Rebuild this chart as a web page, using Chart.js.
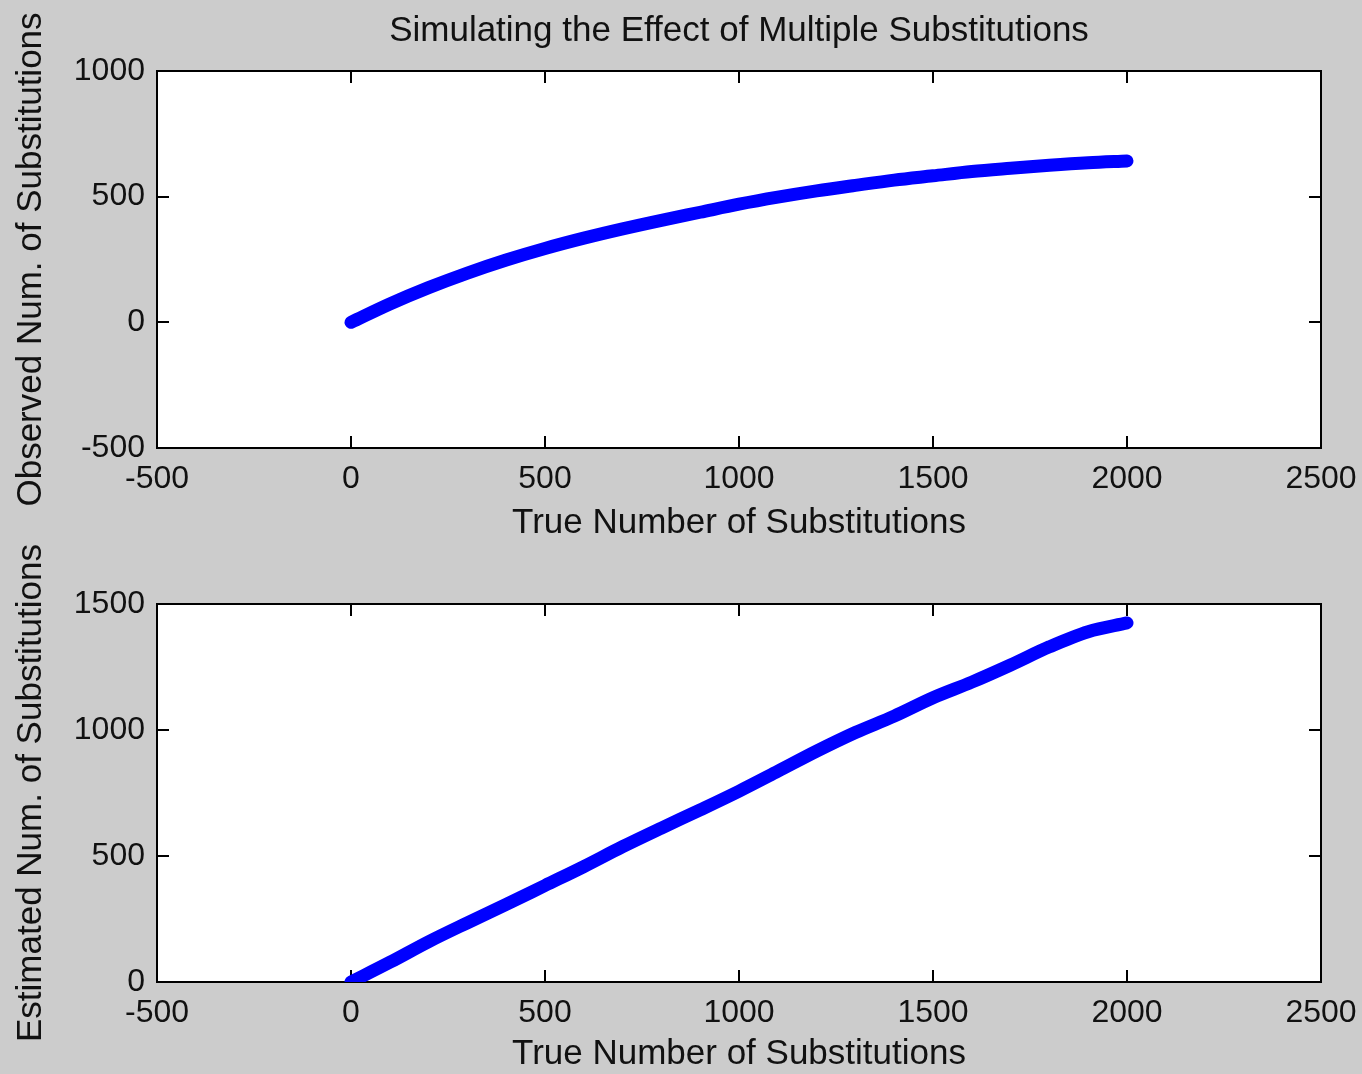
<!DOCTYPE html>
<html>
<head>
<meta charset="utf-8">
<script src="https://cdn.jsdelivr.net/npm/chart.js@4/dist/chart.umd.min.js"></script>
<style>
html,body{margin:0;padding:0;background:#cccccc;overflow:hidden;width:1362px;height:1074px;}
canvas{position:absolute;left:0;}
#c1{top:0;}
#c2{top:545px;}
</style>
</head>
<body>
<canvas id="c1" width="1362" height="545"></canvas>
<canvas id="c2" width="1362" height="531"></canvas>
<script>
const titleText = 'Simulating the Effect of Multiple Substitutions';
const xTitle = 'True Number of Substitutions';
const yTitleTop = 'Observed Num. of Substitutions';
const yTitleBottom = 'Estimated Num. of Substitutions';

const trueSubs = [0,100,200,300,400,500,600,700,800,900,1000,1100,1200,1300,1400,1500,1600,1700,1800,1900,2000];
const observed = [0,73,138,196,248,294,335,372,406,438,470,498,523,545,566,583,600,613,625,635,642];
const estimated = [0,78,160,235,308,383,458,537,611,683,757,836,916,990,1055,1128,1190,1258,1330,1390,1425];

const xTicks = [-500,0,500,1000,1500,2000,2500];
const yTicksTop = [-500,0,500,1000];
const yTicksBottom = [0,500,1000,1500];

const FONT = 'Liberation Sans, Arial, sans-serif';
const TXT = '#111111';

const boxPlugin = {
  id: 'matlabBox',
  beforeDraw(chart) {
    const {ctx, chartArea: a} = chart;
    ctx.save();
    ctx.fillStyle = '#ffffff';
    ctx.fillRect(a.left, a.top, a.right - a.left, a.bottom - a.top);
    ctx.restore();
  },
  beforeDatasetsDraw(chart) {
    const {ctx, chartArea: a, scales} = chart;
    const tl = 12;
    ctx.save();
    ctx.strokeStyle = '#000000';
    ctx.lineWidth = 2;
    ctx.beginPath();
    scales.x.ticks.forEach((t, i) => {
      const px = Math.round(scales.x.getPixelForTick(i));
      ctx.moveTo(px, a.bottom); ctx.lineTo(px, a.bottom - tl);
      ctx.moveTo(px, a.top); ctx.lineTo(px, a.top + tl);
    });
    scales.y.ticks.forEach((t, i) => {
      const py = Math.round(scales.y.getPixelForTick(i));
      ctx.moveTo(a.left, py); ctx.lineTo(a.left + tl, py);
      ctx.moveTo(a.right, py); ctx.lineTo(a.right - tl, py);
    });
    ctx.stroke();
    ctx.strokeRect(a.left, a.top, a.right - a.left, a.bottom - a.top);
    ctx.restore();
  }
};

function makeChart(id, yVals, yTickVals, yTitle, withTitle, xAxisHeight, topPad) {
  const pts = trueSubs.map((x, i) => ({x: x, y: yVals[i]}));
  return new Chart(document.getElementById(id), {
    type: 'line',
    data: {
      datasets: [{
        data: pts,
        borderColor: '#0000ff',
        backgroundColor: '#0000ff',
        borderWidth: 13,
        borderCapStyle: 'round',
        borderJoinStyle: 'round',
        pointRadius: 0,
        cubicInterpolationMode: 'monotone',
        fill: false
      }]
    },
    options: {
      responsive: false,
      animation: false,
      events: [],
      layout: {padding: {left: 0, right: 41, top: topPad, bottom: 0}},
      plugins: {
        legend: {display: false},
        tooltip: {enabled: false},
        title: {
          display: withTitle,
          text: titleText,
          fullSize: false,
          color: TXT,
          font: {family: FONT, size: 35, weight: 'normal'},
          padding: {top: 10, bottom: 19}
        }
      },
      scales: {
        x: {
          type: 'linear',
          position: 'bottom',
          min: xTicks[0],
          max: xTicks[xTicks.length - 1],
          afterBuildTicks(s) { s.ticks = xTicks.map(v => ({value: v})); },
          afterFit(s) { s.height = xAxisHeight; s.paddingLeft = 0; s.paddingRight = 0; },
          grid: {display: false, drawTicks: false},
          border: {display: false},
          ticks: {color: TXT, font: {family: FONT, size: 32}, padding: 12, maxRotation: 0, autoSkip: false,
                  callback: v => String(v)},
          title: {display: true, text: xTitle, color: TXT, font: {family: FONT, size: 35}, padding: {top: 0, bottom: 1}}
        },
        y: {
          type: 'linear',
          min: yTickVals[0],
          max: yTickVals[yTickVals.length - 1],
          afterBuildTicks(s) { s.ticks = yTickVals.map(v => ({value: v})); },
          afterFit(s) { s.width = 157; },
          grid: {display: false, drawTicks: false},
          border: {display: false},
          ticks: {color: TXT, font: {family: FONT, size: 32}, padding: 12, autoSkip: false,
                  callback: v => String(v)},
          title: {display: true, text: yTitle, color: TXT, font: {family: FONT, size: 35}, padding: {top: 10, bottom: 0}}
        }
      }
    },
    plugins: [boxPlugin]
  });
}

makeChart('c1', observed, yTicksTop, yTitleTop, true, 97, 0);
makeChart('c2', estimated, yTicksBottom, yTitleBottom, false, 94, 59);
</script>
</body>
</html>
